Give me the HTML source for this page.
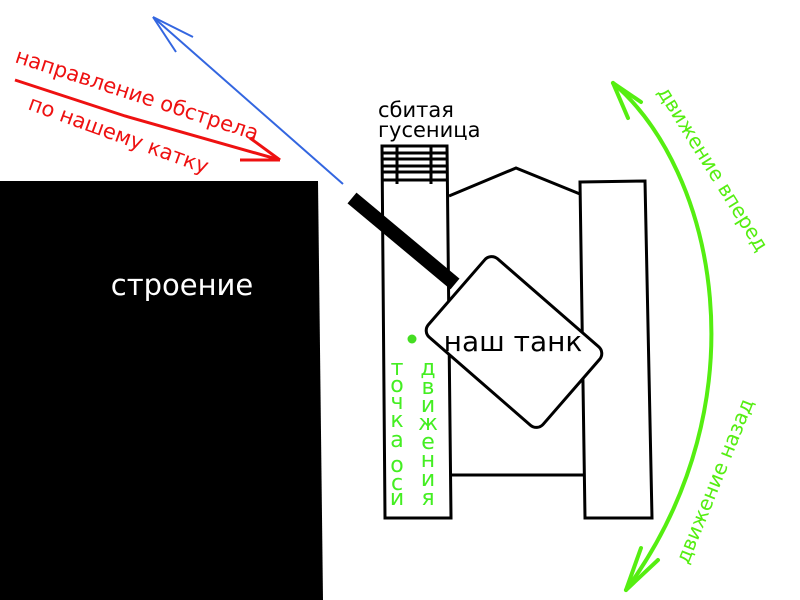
<!DOCTYPE html>
<html><head><meta charset="utf-8"><style>
html,body{margin:0;padding:0;background:#fff;}
svg{display:block;font-family:"Liberation Sans","DejaVu Sans",sans-serif;}
</style></head><body>
<svg width="800" height="600" viewBox="0 0 800 600" xmlns="http://www.w3.org/2000/svg">
<rect width="800" height="600" fill="#fff"/>
<!-- building -->
<polygon points="0,181 318,181 323,600 0,600" fill="#000"/>
<text x="182" y="295" font-size="29" fill="#fff" text-anchor="middle" font-family="DejaVu Sans, sans-serif">строение</text>

<!-- blue arrow -->
<g stroke="#3366e0" stroke-width="2" fill="none">
<line x1="343" y1="184" x2="153" y2="17"/>
<line x1="153" y1="17" x2="193" y2="37"/>
<line x1="153" y1="17" x2="176" y2="52"/>
</g>
<!-- red arrow -->
<g stroke="#ee1111" stroke-width="3" fill="none">
<polyline points="15,80 125,116 280,160"/>
<line x1="280" y1="160" x2="250" y2="138"/>
<line x1="280" y1="160" x2="240" y2="160"/>
</g>
<text transform="translate(14,62) rotate(18)" font-size="21" fill="#ee1111" font-family="DejaVu Sans, sans-serif">направление обстрела</text>
<text transform="translate(27,109) rotate(20)" font-size="21" fill="#ee1111" font-family="DejaVu Sans, sans-serif">по нашему катку</text>

<!-- label -->
<text x="378" y="117" font-size="21" fill="#000" font-family="DejaVu Sans, sans-serif">сбитая</text>
<text x="378" y="137" font-size="21" fill="#000" font-family="DejaVu Sans, sans-serif">гусеница</text>

<g stroke="#000" stroke-width="3" fill="none">
<!-- left track -->
<polygon points="382,146 447,146 451,518 385,518" fill="#fff"/>
<line x1="382" y1="153" x2="447" y2="153"/>
<line x1="382" y1="159" x2="447" y2="159"/>
<line x1="382" y1="166" x2="447" y2="166"/>
<line x1="382" y1="172" x2="447" y2="172"/>
<line x1="382" y1="180" x2="447" y2="180"/>
<line x1="397" y1="146" x2="397" y2="184"/>
<line x1="431" y1="146" x2="431" y2="184"/>
<!-- hull -->
<polyline points="449,196 516,168 580,194"/>
<line x1="452" y1="475" x2="584" y2="475"/>
<!-- right track -->
<polygon points="580,182 645,181 652,518 585,518" fill="#fff"/>
</g>
<!-- barrel -->
<line x1="352" y1="198" x2="455" y2="284" stroke="#000" stroke-width="14"/>
<!-- turret -->
<g transform="translate(514,342) rotate(41)">
<rect x="-76" y="-52" width="152" height="104" rx="9" ry="9" fill="#fff" stroke="#000" stroke-width="3"/>
</g>
<text x="513" y="351" font-size="28" fill="#000" text-anchor="middle" font-family="DejaVu Sans, sans-serif">наш танк</text>

<!-- pivot -->
<circle cx="412" cy="339" r="4.5" fill="#44dd22"/>
<g font-size="22" fill="#44ee22" text-anchor="middle" font-family="DejaVu Sans, sans-serif">
<text x="397" y="375">т</text><text x="397" y="392">о</text><text x="397" y="409">ч</text><text x="397" y="427">к</text><text x="397" y="447">а</text><text x="397" y="472">о</text><text x="397" y="490">с</text><text x="397" y="505">и</text>
<text x="428" y="375">д</text><text x="428" y="394">в</text><text x="428" y="412">и</text><text x="428" y="430">ж</text><text x="428" y="449">е</text><text x="428" y="467">н</text><text x="428" y="486">и</text><text x="428" y="505">я</text>
</g>

<!-- green arc -->
<g stroke="#55ee11" stroke-width="4" fill="none" stroke-linecap="round">
<path d="M613,83 C715,170 765,400 626,590"/>
<line x1="613" y1="83" x2="641" y2="102"/>
<line x1="613" y1="83" x2="628" y2="118"/>
<line x1="626" y1="590" x2="641" y2="548"/>
<line x1="626" y1="590" x2="658" y2="560"/>
</g>
<text transform="translate(657,92) rotate(58)" font-size="20" fill="#55ee11" font-family="DejaVu Sans, sans-serif">движение вперед</text>
<text transform="translate(688,565) rotate(-68)" font-size="20" fill="#55ee11" font-family="DejaVu Sans, sans-serif">движение назад</text>
</svg>
</body></html>
